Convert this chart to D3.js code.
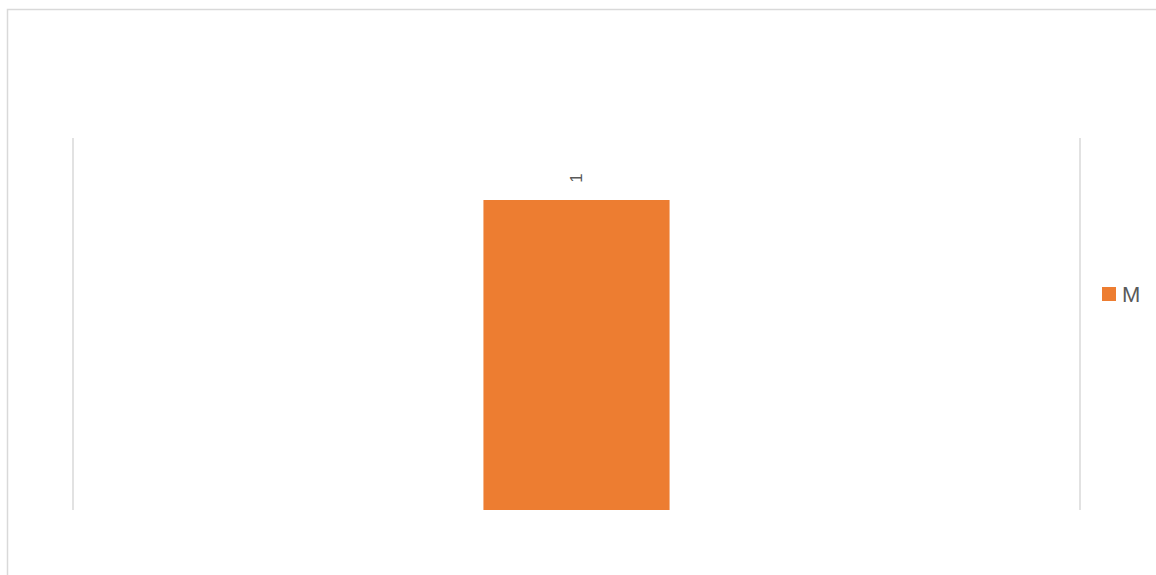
<!DOCTYPE html>
<html>
<head>
<meta charset="utf-8">
<script src="https://cdn.jsdelivr.net/npm/d3@7"></script>
<style>
  html, body { margin: 0; padding: 0; background: #fff; }
  svg { display: block; }
</style>
</head>
<body>
<svg id="chart" width="1156" height="575"></svg>
<script>
// Chart data
const categories = [""];
const seriesName = "M";
const seriesValues = [1];
const yDomainMax = 1.2;

const svg = d3.select("#chart");
const W = 1156, H = 575;
const plot = { left: 73, right: 1080, top: 138, bottom: 510 };
const barColor = "#ED7D31";
const lineColor = "#D9D9D9";
const textColor = "#595959";

// Outer chart frame (extends past the right and bottom edges)
svg.append("rect")
  .attr("x", 7.5).attr("y", 9.5)
  .attr("width", W + 20).attr("height", H + 20)
  .attr("fill", "#fff")
  .attr("stroke", lineColor)
  .attr("stroke-width", 1.5);

const x = d3.scaleBand()
  .domain(categories)
  .range([plot.left, plot.right])
  .padding(0.688);

const y = d3.scaleLinear()
  .domain([0, yDomainMax])
  .range([plot.bottom, plot.top]);

// Plot-area side lines
[plot.left, plot.right].forEach(px => {
  svg.append("line")
    .attr("x1", px).attr("x2", px)
    .attr("y1", plot.top).attr("y2", plot.bottom)
    .attr("stroke", lineColor)
    .attr("stroke-width", 1.5);
});

// Bars
svg.append("g").selectAll("rect")
  .data(seriesValues)
  .join("rect")
  .attr("x", (d, i) => x(categories[i]))
  .attr("y", d => y(d))
  .attr("width", x.bandwidth())
  .attr("height", d => y(0) - y(d))
  .attr("fill", barColor);

// Value labels, rotated
svg.append("g").selectAll("text")
  .data(seriesValues)
  .join("text")
  .attr("transform", (d, i) => {
    const cx = x(categories[i]) + x.bandwidth() / 2;
    const cy = y(d) - 22;
    return `translate(${cx},${cy}) rotate(-90)`;
  })
  .attr("text-anchor", "middle")
  .attr("dominant-baseline", "central")
  .attr("font-family", "Liberation Sans, Arial, sans-serif")
  .attr("font-size", 17)
  .attr("fill", textColor)
  .text(d => d);

// Legend
const legend = svg.append("g").attr("transform", "translate(1102,287)");
legend.append("rect")
  .attr("width", 14).attr("height", 14)
  .attr("fill", barColor);
legend.append("text")
  .attr("x", 20).attr("y", 7.5)
  .attr("dominant-baseline", "central")
  .attr("font-family", "Liberation Sans, Arial, sans-serif")
  .attr("font-size", 22)
  .attr("fill", textColor)
  .text(seriesName);
</script>
</body>
</html>
